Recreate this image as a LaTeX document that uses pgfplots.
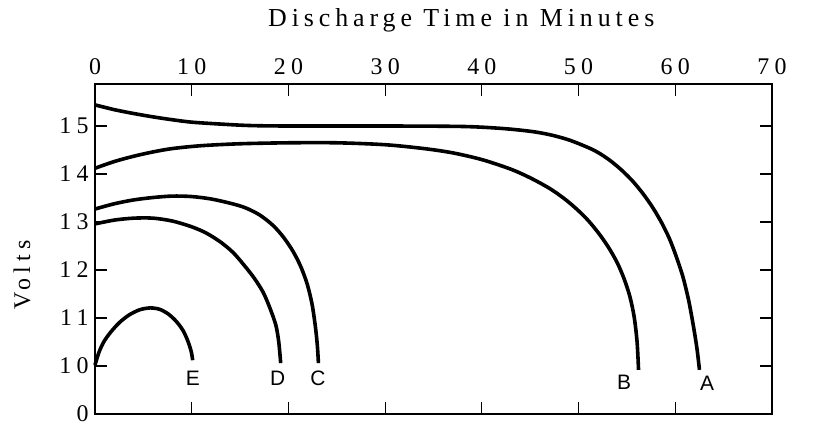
\documentclass[border=0pt]{standalone}
\usepackage{fontspec}
\usepackage{pgfplots}
\pgfplotsset{compat=1.18}
\setmainfont{Liberation Serif}
\newfontfamily\lsans{Liberation Sans}
\newfontfamily\twf{Liberation Serif}[LetterSpace=22]
\newfontfamily\ttl{Liberation Serif}[LetterSpace=19]
\newcommand\tw{\twf\fontsize{24}{28}\selectfont}
\newcommand\tl{\ttl\fontsize{26}{30}\selectfont}
\newcommand\lab{\lsans\fontsize{21}{25}\selectfont}
\begin{document}
\begin{tikzpicture}
\begin{axis}[
  scale only axis,
  width=677bp, height=330bp,
  xmin=0, xmax=70, ymin=9, ymax=15.875,
  xtick={0,10,...,70},
  ytick={9,10,11,12,13,14,15},
  yticklabels={0,10,11,12,13,14,15},
  xticklabel pos=right,
  tick pos=both,
  tick align=inside,
  major tick length=12bp,
  tick style={line width=1.2bp, black},
  axis line style={line width=1.6bp},
  /pgf/number format/assume math mode=true,
  ticklabel style={font=\tw},
  xticklabel style={yshift=6bp},
  yticklabel style={xshift=-3bp},
  clip=false,
  cur/.style={black, line width=3.6bp, smooth, no markers, line join=round},
]
% A
\addplot[cur] coordinates {
(0,15.44) (2,15.34) (4,15.26) (6,15.19) (8,15.13) (10,15.08) (13,15.04) (16,15.01) (20,15.0) (30,15.0) (38,14.99) (42,14.95) (45,14.89) (47,14.82) (49,14.71) (51,14.55) (52,14.45) (53.2,14.29) (54.4,14.09) (55.6,13.85) (56.7,13.58) (57.7,13.29) (58.6,12.98) (59.4,12.65) (60.1,12.28) (60.8,11.85) (61.4,11.35) (61.9,10.8) (62.25,10.35) (62.5,9.92)
};
% B
\addplot[cur] coordinates {
(0,14.12) (2,14.26) (4,14.37) (6,14.46) (8,14.53) (11,14.59) (15,14.63) (20,14.65) (25,14.65) (30,14.61) (34,14.53) (37,14.44) (40,14.3) (43,14.1) (45,13.92) (47,13.7) (48.5,13.49) (49.8,13.27) (51,13.03) (52.1,12.76) (53.1,12.47) (54,12.15) (54.7,11.82) (55.3,11.45) (55.75,11.02) (56.05,10.5) (56.2,9.92)
};
% C
\addplot[cur] coordinates {
(0,13.27) (2,13.38) (4,13.46) (6,13.51) (8,13.54) (10,13.53) (12,13.48) (14,13.39) (15.5,13.3) (17,13.15) (18.4,12.93) (19.5,12.68) (20.5,12.38) (21.3,12.06) (21.95,11.7) (22.45,11.28) (22.8,10.8) (23.0,10.4) (23.1,10.06)
};
% D
\addplot[cur] coordinates {
(0,12.96) (2,13.04) (4,13.08) (6,13.08) (8,13.02) (10,12.9) (11.5,12.77) (13,12.58) (14.3,12.36) (15.5,12.08) (16.5,11.82) (17.4,11.53) (18.1,11.2) (18.7,10.85) (19.0,10.5) (19.2,10.06)
};
% E
\addplot[cur] coordinates {
(0,10.02) (0.4,10.28) (0.9,10.5) (1.6,10.7) (2.5,10.9) (3.5,11.06) (4.6,11.17) (5.7,11.21) (6.7,11.18) (7.6,11.08) (8.4,10.93) (9.1,10.74) (9.6,10.52) (9.95,10.3) (10.1,10.12)
};
\node[font=\lab] at (axis cs:10.13,9.75) {E};
\node[font=\lab] at (axis cs:18.9,9.75) {D};
\node[font=\lab] at (axis cs:23.06,9.75) {C};
\node[font=\lab] at (axis cs:54.7,9.67) {B};
\node[font=\lab] at (axis cs:63.3,9.63) {A};
\node[font=\tl, anchor=base] at (rel axis cs:0.541,1) [yshift=57bp] {Discharge Time in Minutes};
\coordinate (vl) at (rel axis cs:0,0.421);
\coordinate (sw) at (rel axis cs:0,0);
\coordinate (ne) at (rel axis cs:1,1);
\end{axis}
\node[font=\tw, rotate=90, anchor=center] at ([xshift=-73bp]vl) {Volts};
\pgfresetboundingbox
\path[use as bounding box] ([xshift=-95bp,yshift=-13bp]sw) rectangle ([xshift=52bp,yshift=84bp]ne);
\end{tikzpicture}
\end{document}
